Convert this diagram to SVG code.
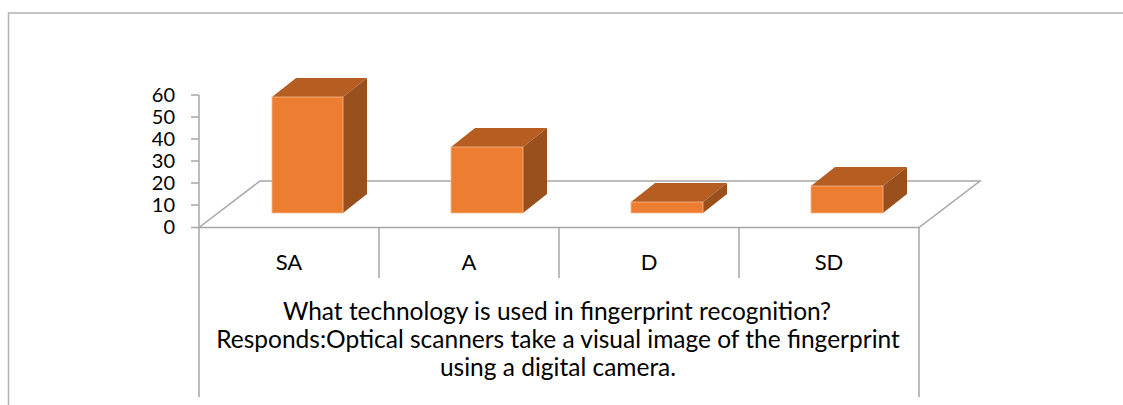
<svg xmlns="http://www.w3.org/2000/svg" width="1123" height="405" viewBox="0 0 1123 405">
<style>
.grid{stroke:#a6a6a6;stroke-width:1.5;fill:none}
.frame{stroke:#b3b3b3;stroke-width:1.5;fill:none}
.front{fill:#ed7d31;stroke:#f5b88e;stroke-width:0.8}
.top{fill:#b65e22}
.side{fill:#9a501d}
.ylab{font-family:Lato,"Liberation Sans",sans-serif;font-size:20px;fill:#000;text-anchor:end}
.clab{font-family:Lato,"Liberation Sans",sans-serif;font-size:22px;fill:#000;text-anchor:middle}
.title{font-family:Lato,"Liberation Sans",sans-serif;font-size:24.5px;fill:#000;text-anchor:middle}
</style>
<rect width="1123" height="405" fill="#fff"/>
<g id="frame">
<path class="frame" d="M8.5,405 V13 H1123"/>
</g>
<g id="axes">
<path class="grid" d="M199,95 V227.5 M191,95 H199 M191,117 H199 M191,139 H199 M191,161 H199 M191,183 H199 M191,205 H199 M191,227.5 H199"/>
<polygon class="grid" points="199,227.5 260,181 980,181 919,227.5"/>
<path class="grid" d="M199,227.5 V397 M919,227.5 V397 M379,227.5 V278 M559,227.5 V278 M739,227.5 V278"/>
</g>
<g id="ylabels">
<text class="ylab" x="175" y="102">60</text>
<text class="ylab" x="175" y="124">50</text>
<text class="ylab" x="175" y="146">40</text>
<text class="ylab" x="175" y="168">30</text>
<text class="ylab" x="175" y="190">20</text>
<text class="ylab" x="175" y="212">10</text>
<text class="ylab" x="175" y="234">0</text>
</g>
<g id="bar-SA">
<polygon class="top" points="272,97 296,78 367,78 343,97"/>
<polygon class="side" points="343,97 367,78 367,194 343,213"/>
<rect class="front" x="272" y="97" width="71" height="116"/>
</g>
<g id="bar-A">
<polygon class="top" points="451,147 475,128 547,128 523,147"/>
<polygon class="side" points="523,147 547,128 547,194 523,213"/>
<rect class="front" x="451" y="147" width="72" height="66"/>
</g>
<g id="bar-D">
<polygon class="top" points="631,202 655,183 727,183 703,202"/>
<polygon class="side" points="703,202 727,183 727,194 703,213"/>
<rect class="front" x="631" y="202" width="72" height="11"/>
</g>
<g id="bar-SD">
<polygon class="top" points="811,186 835,167 907,167 883,186"/>
<polygon class="side" points="883,186 907,167 907,194 883,213"/>
<rect class="front" x="811" y="186" width="72" height="27"/>
</g>
<g id="categories">
<text class="clab" x="289" y="270">SA</text>
<text class="clab" x="469" y="270">A</text>
<text class="clab" x="649" y="270">D</text>
<text class="clab" x="829" y="270">SD</text>
</g>
<g id="axis-title">
<text class="title" x="557" y="320">What technology is used in fingerprint recognition?</text>
<text class="title" x="558" y="348">Responds:Optical scanners take a visual image of the fingerprint</text>
<text class="title" x="558" y="376">using a digital camera.</text>
</g>
</svg>
